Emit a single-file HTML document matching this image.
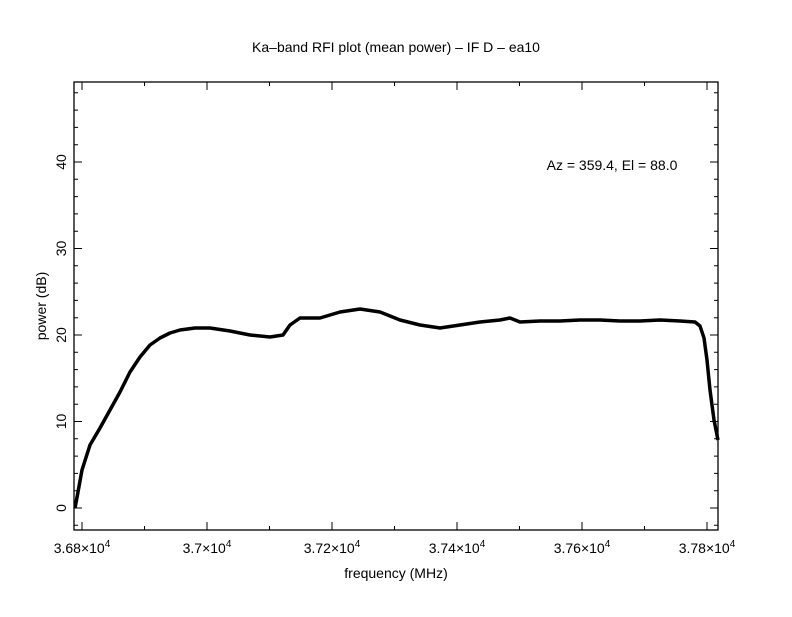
<!DOCTYPE html>
<html><head><style>body{margin:0;background:#fff}</style></head><body>
<svg width="792" height="612" xmlns="http://www.w3.org/2000/svg" font-family="Liberation Sans, sans-serif" font-size="14">
<rect width="792" height="612" fill="#fff"/>
<text x="396" y="52" text-anchor="middle">Ka–band RFI plot (mean power) – IF D – ea10</text>
<text x="612" y="170" text-anchor="middle">Az = 359.4, El = 88.0</text>
<text x="396" y="578" text-anchor="middle">frequency (MHz)</text>
<text transform="translate(46,306) rotate(-90)" text-anchor="middle">power (dB)</text>
<rect x="74" y="82" width="644" height="448" fill="none" stroke="#000" stroke-width="1.3"/>
<g stroke="#000" stroke-width="1">
<path d="M82,530v-8M82,82v8M207,530v-8M207,82v8M332,530v-8M332,82v8M457,530v-8M457,82v8M582,530v-8M582,82v8M707,530v-8M707,82v8
M144.5,530v-4M144.5,82v4M269.5,530v-4M269.5,82v4M394.5,530v-4M394.5,82v4M519.5,530v-4M519.5,82v4M644.5,530v-4M644.5,82v4"/>
<path d="M74,508h8M718,508h-8M74,421.5h8M718,421.5h-8M74,335h8M718,335h-8M74,248.5h8M718,248.5h-8M74,162h8M718,162h-8
M74,525.3h4M74,490.7h4M74,473.4h4M74,456.1h4M74,438.8h4M74,404.2h4M74,386.9h4M74,369.6h4M74,352.3h4M74,317.7h4M74,300.4h4M74,283.1h4M74,265.8h4M74,231.2h4M74,213.9h4M74,196.6h4M74,179.3h4M74,144.7h4M74,127.4h4M74,110.1h4M74,92.8h4
M718,525.3h-4M718,490.7h-4M718,473.4h-4M718,456.1h-4M718,438.8h-4M718,404.2h-4M718,386.9h-4M718,369.6h-4M718,352.3h-4M718,317.7h-4M718,300.4h-4M718,283.1h-4M718,265.8h-4M718,231.2h-4M718,213.9h-4M718,196.6h-4M718,179.3h-4M718,144.7h-4M718,127.4h-4M718,110.1h-4M718,92.8h-4"/>
</g>
<g text-anchor="middle">
<text x="82" y="553">3.68×10<tspan dy="-6" font-size="10">4</tspan></text>
<text x="207" y="553">3.7×10<tspan dy="-6" font-size="10">4</tspan></text>
<text x="332" y="553">3.72×10<tspan dy="-6" font-size="10">4</tspan></text>
<text x="457" y="553">3.74×10<tspan dy="-6" font-size="10">4</tspan></text>
<text x="582" y="553">3.76×10<tspan dy="-6" font-size="10">4</tspan></text>
<text x="707" y="553">3.78×10<tspan dy="-6" font-size="10">4</tspan></text>
</g>
<g text-anchor="middle">
<text transform="translate(66,508) rotate(-90)">0</text>
<text transform="translate(66,421.5) rotate(-90)">10</text>
<text transform="translate(66,335) rotate(-90)">20</text>
<text transform="translate(66,248.5) rotate(-90)">30</text>
<text transform="translate(66,162) rotate(-90)">40</text>
</g>
<polyline fill="none" stroke="#000" stroke-width="3.5" stroke-linejoin="round" points="75,508 78,492 82,470 90,445 100,428 110,410 120,392 130,372 140,357 150,345 160,338 170,333 180,330 195,328 210,328 230,331 250,335 270,337 283,335 290,325 300,318 320,318 340,312 360,309 380,312 400,320 420,325 440,328 460,325 480,322 500,320 510,318 520,322 540,321 560,321 580,320 600,320 620,321 640,321 660,320 680,321 695,322 700,326 704,338 707,360 710,390 714,420 718,440"/>
</svg>
</body></html>
